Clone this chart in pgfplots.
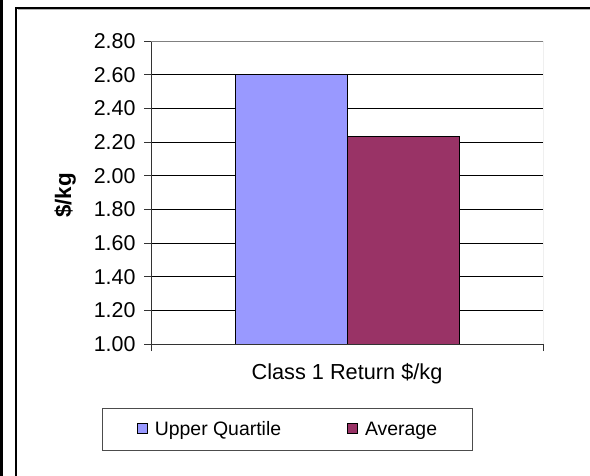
\documentclass[border=0pt]{standalone}
\usepackage{pgfplots}
\pgfplotsset{compat=1.18}
\usepackage{fontspec}
\setmainfont{Liberation Sans}
\definecolor{uq}{HTML}{9999FF}
\definecolor{avg}{HTML}{993366}
\begin{document}
\begin{tikzpicture}
\useasboundingbox (0,0) rectangle (590bp,476bp);
\fill[white] (0,0) rectangle (590bp,476bp);
\begin{scope}
\clip (0,0) rectangle (590bp,476bp);
\draw[line width=3bp] (1.5bp,-10bp) -- (1.5bp,490bp);
\draw[line width=2.5bp] (16bp,-20bp) -- (16bp,468bp) -- (620bp,468bp);
\draw[line width=1bp, gray!60] (17.5bp,466.2bp) -- (620bp,466.2bp);
\end{scope}
\begin{axis}[
  at={(151bp,132bp)}, anchor=south west,
  width=392bp, height=303bp, scale only axis,
  xmin=0, xmax=1, ymin=1, ymax=2.8,
  ytick={1,1.2,...,2.81},
  /pgf/number format/.cd, fixed, fixed zerofill, precision=2, assume math mode=true, /pgfplots/.cd,
  yticklabel style={font=\fontsize{21.5}{25}\selectfont, xshift=-5bp},
  xtick={0,1}, xticklabels={},
  tick align=outside,
  major tick length=7bp,
  tick style={black!80, line width=0.8bp},
  axis x line*=bottom, axis y line*=left,
  axis line style={black!80, line width=0.9bp},
  ymajorgrids, grid style={black, line width=0.8bp},
  ybar=0pt, bar width=112bp,
  xlabel={Class 1 Return \$/kg},
  xlabel style={font=\fontsize{21.8}{25}\selectfont, yshift=-2bp},
  ylabel={\textbf{\$/kg}},
  ylabel style={font=\fontsize{22.5}{26}\selectfont, at={(axis description cs:-0.219,0.49)}, anchor=center},
  legend columns=2,
  legend style={at={(0.347,-0.282)}, anchor=center, draw=black!70, line width=0.8bp,
    font=\fontsize{19.5}{23}\selectfont, inner xsep=35bp, inner ysep=13bp,
    nodes={inner sep=0pt},
    /tikz/every odd column/.append style={column sep=7bp},
    /tikz/every even column/.append style={column sep=66bp}},
  legend image code/.code={\draw[#1,draw=black,line width=0.9bp] (0bp,-4bp) rectangle (10bp,6bp);},
]
\addplot[fill=uq, draw=black, line width=0.9bp] coordinates {(0.5,2.60)};
\addplot[fill=avg, draw=black, line width=0.9bp] coordinates {(0.5,2.23)};
\legend{Upper Quartile, Average}
\draw[gray, line width=0.9bp] (rel axis cs:0,1) -- (rel axis cs:1,1) -- (rel axis cs:1,0);
\end{axis}
\end{tikzpicture}
\end{document}
